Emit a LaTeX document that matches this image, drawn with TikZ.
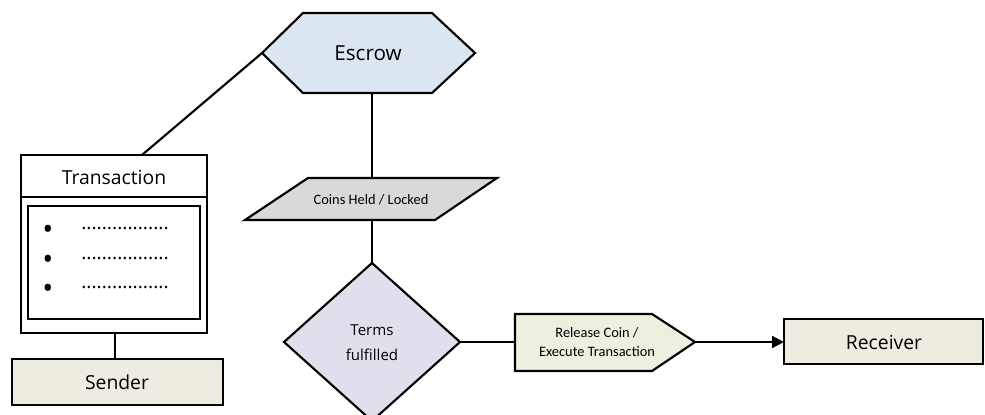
\documentclass[tikz,border=0pt]{standalone}
\usepackage{fontspec}
\setmainfont{Open Sans}
\newfontfamily\smallfont{Carlito}
\usetikzlibrary{arrows.meta}
\definecolor{escfill}{HTML}{DCE6F2}
\definecolor{coinfill}{HTML}{D9D9D9}
\definecolor{termfill}{HTML}{E1DFEC}
\definecolor{relfill}{HTML}{EBF1DE}
\definecolor{boxfill}{HTML}{EEECE1}
\tikzset{
  shapeline/.style={draw=black, line width=1.6pt, line join=miter},
  conn/.style={draw=black, line width=1.6pt},
  biglabel/.style={font=\fontsize{14.5}{17}\selectfont, inner sep=0pt},
  smalllabel/.style={font=\smallfont\fontsize{10.8}{14}\selectfont, inner sep=0pt, align=center},
  midlabel/.style={font=\fontsize{11.3}{19}\selectfont, inner sep=0pt, align=center},
  bulletlabel/.style={font=\fontsize{22}{22}\selectfont, inner sep=0pt},
}
\begin{document}
\begin{tikzpicture}[x=0.75pt,y=-0.75pt]
\useasboundingbox (0,0) rectangle (985,414);
\clip (0,0) rectangle (985,414);
% Escrow hexagon
\path[shapeline, fill=escfill] (262,53) -- (303,13) -- (432,13) -- (475,53) -- (432,93) -- (303,93) -- cycle;
\node[biglabel, font=\fontsize{15.5}{18}\selectfont] (escrow) at (368,53) {Escrow};
\coordinate (escL) at (262,53);
\coordinate (escB) at (372,93);
% Coins held parallelogram
\path[shapeline, fill=coinfill] (308,178) -- (497,178) -- (435,220) -- (245,220) -- cycle;
\node[smalllabel] (coins) at (371,200) {Coins Held / Locked};
\coordinate (coinsT) at (372,178);
\coordinate (coinsB) at (372,220);
% Terms diamond
\path[shapeline, fill=termfill] (372,263) -- (460,342) -- (372,421) -- (284,342) -- cycle;
\node[midlabel] (terms) at (372,343) {Terms\\fulfilled};
\coordinate (termsT) at (372,263);
\coordinate (termsR) at (460,342);
% Release pentagon
\path[shapeline, fill=relfill] (515,314) -- (652,314) -- (695,342) -- (652,371) -- (515,371) -- cycle;
\node[smalllabel, font=\smallfont\fontsize{10.8}{14.5}\selectfont] (release) at (597,342) {Release Coin /\\Execute Transaction};
\coordinate (relL) at (515,342);
\coordinate (relR) at (695,342);
% Receiver
\path[shapeline, fill=boxfill] (784,319) rectangle (983,364);
\node[biglabel] (receiver) at (884,342) {Receiver};
\coordinate (recL) at (784,342);
% Transaction box
\path[shapeline, fill=white] (21,155) rectangle (207,333);
\draw[conn] (21,197) -- (207,197);
\path[shapeline, line width=1.9pt] (28,206) rectangle (200,319);
\node[biglabel] (transaction) at (114,177) {Transaction};
\coordinate (trT) at (142,155);
\coordinate (trB) at (115,333);
\foreach \yy/\nm in {228/a,258/b,287/c}{
  \node[bulletlabel] (bul\nm) at (48,\yy+4) {•};
  \node[biglabel, anchor=center] (dots\nm) at (125,\yy) {.................};
}
% Sender
\path[shapeline, fill=boxfill] (12,359) rectangle (223,405);
\node[biglabel] (sender) at (117,382) {Sender};
\coordinate (sendT) at (115,359);
% connectors
\draw[conn] (trT) -- (escL);
\draw[conn] (trB) -- (sendT);
\draw[conn] (escB) -- (coinsT);
\draw[conn] (coinsB) -- (termsT);
\draw[conn] (termsR) -- (relL);
\draw[conn, -{Triangle[length=9pt,width=9pt]}] (relR) -- (recL);
\end{tikzpicture}
\end{document}
